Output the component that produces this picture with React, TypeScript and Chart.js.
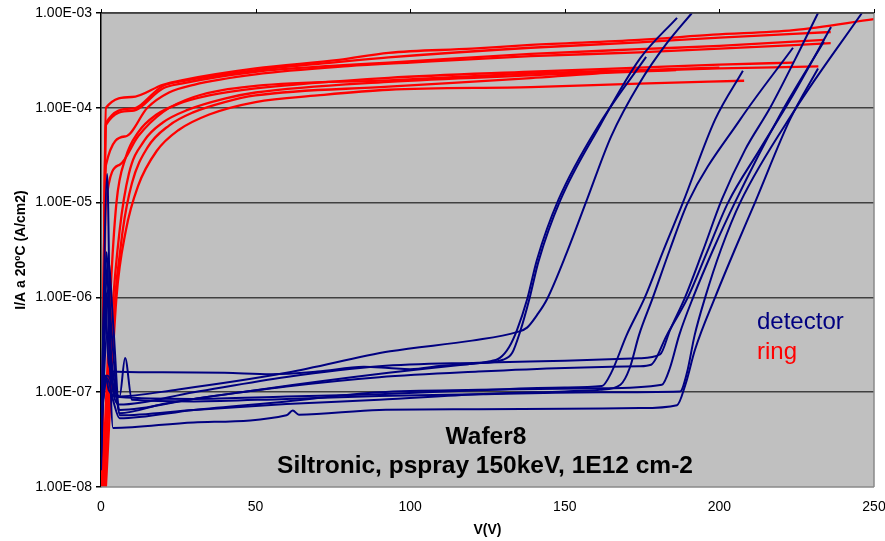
import React, { useEffect, useRef } from "react";
import { Chart, registerables } from "chart.js";

Chart.register(...registerables);

type Pt = [number, number];

// ---------- axes ----------
const xTicks = [0, 50, 100, 150, 200, 250];
const yTicks = [1e-8, 1e-7, 1e-6, 1e-5, 1e-4, 1e-3];
const yTickLabels = ["1.00E-08", "1.00E-07", "1.00E-06", "1.00E-05", "1.00E-04", "1.00E-03"];
const xTitle = "V(V)";
const yTitle = "I/A a 20ºC (A/cm2)";
const titleLines = ["Wafer8", "Siltronic, pspray 150keV, 1E12 cm-2"];
const seriesNames = ["detector", "ring"];

// ---------- ring curves (V, I) ----------
const ring1: Pt[] = [[0.3, 9e-9], [1.6, 1.0e-4], [10, 1.3e-4], [20, 1.75e-4], [26, 1.95e-4], [50, 2.6e-4], [77, 3.2e-4], [93, 3.8e-4], [120, 4.2e-4], [139, 4.6e-4], [174, 5.2e-4], [198, 5.9e-4], [224, 6.6e-4], [250, 8.6e-4]];
const ring2: Pt[] = [[0.3, 9e-9], [1.6, 6.9e-5], [10, 9.8e-5], [20, 1.7e-4], [26, 1.9e-4], [50, 2.5e-4], [77, 3.05e-4], [93, 3.4e-4], [139, 4.3e-4], [174, 4.9e-4], [200, 5.5e-4], [236, 6.3e-4]];
const ring3: Pt[] = [[0.3, 9e-9], [1.6, 6.6e-5], [10, 9.3e-5], [20, 1.6e-4], [26, 1.8e-4], [50, 2.4e-4], [77, 2.8e-4], [93, 3.0e-4], [139, 3.7e-4], [174, 4.15e-4], [200, 4.5e-4], [234, 5.2e-4]];
const ring4: Pt[] = [[0.3, 9e-9], [1.6, 2.5e-5], [8, 5e-5], [15, 1.0e-4], [22, 1.45e-4], [30, 1.75e-4], [50, 2.25e-4], [80, 2.75e-4], [100, 3.0e-4], [139, 3.5e-4], [174, 3.85e-4], [200, 4.2e-4], [236, 4.8e-4]];
const ring5: Pt[] = [[0.5, 9e-9], [3, 1e-6], [5, 1e-5], [8, 3e-5], [12, 5.5e-5], [18, 8.5e-5], [25, 1.1e-4], [35, 1.35e-4], [50, 1.6e-4], [93, 2.07e-4], [139, 2.4e-4], [174, 2.65e-4], [200, 2.85e-4], [224, 3.0e-4]];
const ring6: Pt[] = [[0.6, 9e-9], [3.5, 6e-7], [6, 5e-6], [9, 2e-5], [14, 4.5e-5], [20, 7e-5], [28, 9.5e-5], [40, 1.25e-4], [50, 1.45e-4], [93, 1.88e-4], [139, 2.2e-4], [174, 2.45e-4], [200, 2.6e-4], [232, 2.73e-4]];
const ring7: Pt[] = [[1, 9e-9], [4, 6e-7], [7, 5e-6], [10, 1.6e-5], [15, 3.8e-5], [22, 6.5e-5], [30, 9e-5], [40, 1.15e-4], [50, 1.35e-4], [93, 1.67e-4], [139, 2.06e-4], [160, 2.3e-4], [186, 2.5e-4]];
const ring8: Pt[] = [[1.5, 9e-9], [5, 1e-6], [8, 5e-6], [12, 1.5e-5], [18, 3.5e-5], [25, 5.8e-5], [35, 8.5e-5], [50, 1.15e-4], [70, 1.35e-4], [93, 1.55e-4], [139, 1.65e-4], [174, 1.8e-4], [208, 1.93e-4]];
const ring9: Pt[] = [[0.3, 9e-9], [1.6, 1e-5], [6, 2.5e-5], [12, 5e-5], [20, 9e-5], [30, 1.3e-4], [50, 1.7e-4], [93, 1.95e-4], [139, 2.3e-4], [174, 2.5e-4], [200, 2.65e-4]];

// ---------- detector curves (V, I) ----------
const det1: Pt[] = [[0, 2e-8], [2, 2e-5], [3, 4e-7], [5, 9e-8], [25, 1.07e-7], [60, 1.6e-7], [93.5, 2.7e-7], [120, 3.5e-7], [134.5, 4.3e-7], [137.8, 4.8e-7], [141, 6.5e-7], [144.2, 9.5e-7], [150.7, 3e-6], [157.2, 1.08e-5], [165, 5e-5], [174.3, 1.85e-4], [183, 4.8e-4], [191.1, 1e-3]];
const det2: Pt[] = [[0, 3e-8], [1.2, 1.1e-6], [2.5, 2e-7], [4, 1.65e-7], [20, 1.62e-7], [40, 1.6e-7], [55, 1.55e-7], [70, 1.65e-7], [85, 1.85e-7], [93, 1.8e-7], [100, 1.75e-7], [110, 1.9e-7], [125, 2.1e-7], [129, 2.3e-7], [132, 3e-7], [134.5, 4.5e-7], [137.8, 9.5e-7], [141, 2.5e-6], [148, 1.08e-5], [161, 6.6e-5], [176.3, 3.45e-4]];
const det3: Pt[] = [[0, 4e-8], [2.2, 1.2e-6], [3.5, 4e-7], [6, 6e-8], [20, 7.5e-8], [50, 1.05e-7], [93, 1.6e-7], [120, 2.0e-7], [130, 2.2e-7], [133, 2.6e-7], [135.5, 4.3e-7], [138.5, 9.5e-7], [141.5, 2.4e-6], [148.5, 1.05e-5], [161.5, 6.6e-5], [174.3, 3.3e-4], [186.3, 8.9e-4]];
const det4: Pt[] = [[0, 2e-8], [1.8, 3e-6], [3, 2e-7], [6, 7.4e-8], [30, 1.0e-7], [60, 1.45e-7], [90, 1.88e-7], [122, 2.05e-7], [150, 2.15e-7], [174, 2.28e-7], [180.8, 2.5e-7], [184, 4.5e-7], [188.9, 1e-6], [194.5, 3e-6], [200.8, 1.08e-5], [208.3, 3.6e-5], [216.4, 1e-4], [224.4, 3.2e-4], [231.9, 1e-3]];
const det5: Pt[] = [[0, 3e-8], [2, 4e-7], [4, 1.5e-7], [6.1, 6.5e-8], [30, 8.5e-8], [60, 1.15e-7], [90, 1.44e-7], [122, 1.65e-7], [150, 1.8e-7], [174, 1.88e-7], [177.9, 1.95e-7], [183, 4e-7], [189.8, 1e-6], [196, 3e-6], [202.8, 1e-5], [213, 3.6e-5], [222.8, 1.2e-4], [236.1, 7.1e-4]];
const det6: Pt[] = [[0, 4e-8], [1.5, 1.5e-7], [2.5, 1.05e-7], [6, 8.9e-8], [30, 8.5e-8], [60, 9.0e-8], [90, 9.5e-8], [122, 1.05e-7], [150, 1.12e-7], [162, 1.16e-7], [165, 1.6e-7], [170, 4e-7], [175.9, 1e-6], [182, 3.2e-6], [188.2, 1e-5], [198.6, 7.5e-5], [207.6, 2.46e-4]];
const det7: Pt[] = [[0, 3e-8], [2.3, 2.5e-6], [4, 4.9e-7], [6.1, 5.7e-8], [30, 6.5e-8], [60, 7.5e-8], [90, 8.3e-8], [122, 9.5e-8], [150, 1.02e-7], [161.4, 1.06e-7], [168, 1.2e-7], [171, 1.8e-7], [174, 4e-7], [178.5, 1e-6], [184, 3.2e-6], [189.8, 1e-5], [206.7, 7.5e-5], [223.8, 4.3e-4]];
const det8: Pt[] = [[0, 6e-8], [2, 1.4e-7], [4, 8e-8], [6, 5.3e-8], [30, 6.5e-8], [60, 8e-8], [90, 1.0e-7], [122, 1.06e-7], [161.4, 1.1e-7], [181.4, 1.2e-7], [184, 1.8e-7], [187, 4e-7], [191.5, 1e-6], [198, 3.2e-6], [205, 1e-5], [219.6, 8.4e-5], [233.8, 5e-4]];
const det9: Pt[] = [[0, 5e-8], [2, 1.5e-7], [6, 9e-8], [7.8, 2.3e-7], [10, 8.3e-8], [30, 8e-8], [60, 8.5e-8], [90, 9.1e-8], [122, 9.5e-8], [161.4, 1e-7], [187.3, 1.02e-7], [189.5, 1.6e-7], [192, 4e-7], [195.4, 1e-6], [200.5, 3.2e-6], [206.7, 1e-5], [224.4, 9.5e-5], [246.1, 1e-3]];
const det10: Pt[] = [[0, 1.5e-8], [1.8, 1.1e-6], [3.9, 4.2e-8], [30, 4.8e-8], [60, 5.7e-8], [62, 6.4e-8], [64, 5.8e-8], [90, 6.5e-8], [122, 6.6e-8], [150, 6.7e-8], [174.3, 6.8e-8], [186.3, 7.3e-8], [189, 1.2e-7], [192.1, 2.8e-7], [198.6, 1e-6], [205, 3.2e-6], [211.5, 1e-5], [222.8, 7.5e-5], [231.9, 2.6e-4]];

const detectorCurves = [det1, det2, det3, det4, det5, det6, det7, det8, det9, det10];
const ringCurves = [ring1, ring2, ring3, ring4, ring5, ring6, ring7, ring8, ring9];

const DET_COLOR = "#000080";
const RING_COLOR = "#FF0000";
const FONT = "'Liberation Sans', Arial, Helvetica, sans-serif";

const framePlugin = {
  id: "frame",
  beforeDraw(chart: any) {
    const { ctx, chartArea: a } = chart;
    ctx.save();
    ctx.fillStyle = "#C0C0C0";
    ctx.fillRect(a.left, a.top, a.right - a.left, a.bottom - a.top);
    ctx.restore();
  },
  afterDatasetsDraw(chart: any) {
    const { ctx, chartArea: a } = chart;
    const xs = chart.scales.x;
    ctx.save();
    ctx.strokeStyle = "#8a8a8a";
    ctx.lineWidth = 1.5;
    ctx.beginPath();
    ctx.moveTo(a.right, a.top);
    ctx.lineTo(a.right, a.bottom);
    ctx.stroke();
    ctx.beginPath();
    ctx.moveTo(a.left, a.bottom);
    ctx.lineTo(a.right, a.bottom);
    ctx.stroke();
    ctx.strokeStyle = "#404040";
    ctx.lineWidth = 1.5;
    ctx.beginPath();
    ctx.moveTo(a.left, a.top);
    ctx.lineTo(a.right, a.top);
    ctx.stroke();
    ctx.strokeStyle = "#000";
    ctx.lineWidth = 1;
    for (const v of xTicks) {
      const px = Math.round(xs.getPixelForValue(v)) + 0.5;
      ctx.beginPath();
      ctx.moveTo(px, a.top - 4);
      ctx.lineTo(px, a.top);
      ctx.stroke();
    }
    ctx.fillStyle = "#000";
    ctx.font = `bold 24.5px ${FONT}`;
    ctx.textAlign = "center";
    ctx.textBaseline = "alphabetic";
    ctx.fillText(titleLines[0], 486, 444);
    ctx.fillText(titleLines[1], 485, 473);
    ctx.font = `24px ${FONT}`;
    ctx.textAlign = "left";
    ctx.fillStyle = DET_COLOR;
    ctx.fillText(seriesNames[0], 757, 329);
    ctx.fillStyle = RING_COLOR;
    ctx.fillText(seriesNames[1], 757, 359);
    ctx.restore();
  },
};

export default function App() {
  const ref = useRef<HTMLCanvasElement | null>(null);

  useEffect(() => {
    document.body.style.margin = "0";
    const canvas = ref.current;
    if (!canvas) return;

    const toXY = (c: Pt[]) => c.map(([x, y]) => ({ x, y }));
    const datasets: any[] = [
      ...ringCurves.map((c, i) => ({
        label: i === 0 ? seriesNames[1] : seriesNames[1] + " " + (i + 1),
        data: toXY(c),
        borderColor: RING_COLOR,
        backgroundColor: RING_COLOR,
        borderWidth: 2.3,
        showLine: true,
        pointRadius: 0,
        order: 2,
        cubicInterpolationMode: "monotone",
      })),
      ...detectorCurves.map((c, i) => ({
        label: i === 0 ? seriesNames[0] : seriesNames[0] + " " + (i + 1),
        data: toXY(c),
        borderColor: DET_COLOR,
        backgroundColor: DET_COLOR,
        borderWidth: 2,
        showLine: true,
        pointRadius: 0,
        order: 1,
        cubicInterpolationMode: "monotone",
      })),
    ];

    const chart = new Chart(canvas, {
      type: "scatter",
      data: { datasets },
      plugins: [framePlugin],
      options: {
        animation: false,
        responsive: false,
        events: [],
        layout: { padding: { left: 9, top: 13, right: 11, bottom: 0 } },
        plugins: {
          legend: { display: false },
          tooltip: { enabled: false },
        },
        scales: {
          x: {
            type: "linear",
            min: 0,
            max: 250,
            afterBuildTicks: (axis: any) => {
              axis.ticks = xTicks.map((v) => ({ value: v }));
            },
            afterFit: (axis: any) => {
              axis.height = 54;
              axis.paddingLeft = 0;
              axis.paddingRight = 0;
            },
            ticks: {
              padding: 12,
              color: "#000",
              font: { family: FONT, size: 14 },
              maxRotation: 0,
              callback: (v: any) => String(v),
            },
            grid: { display: false, drawTicks: false },
            border: { display: false },
            title: {
              display: true,
              text: xTitle,
              color: "#000",
              font: { family: FONT, size: 14, weight: "bold" },
              padding: { top: 6, bottom: 2.5 },
            },
          },
          y: {
            type: "logarithmic",
            min: 1e-8,
            max: 1e-3,
            afterBuildTicks: (axis: any) => {
              axis.ticks = yTicks.map((v) => ({ value: v, major: true }));
            },
            afterFit: (axis: any) => {
              axis.width = 92;
              axis.paddingTop = 0;
              axis.paddingBottom = 0;
            },
            ticks: {
              padding: 4,
              color: "#000",
              font: { family: FONT, size: 14 },
              autoSkip: false,
              callback: (v: any) => {
                const i = yTicks.indexOf(Number(v));
                return i >= 0 ? yTickLabels[i] : "";
              },
            },
            grid: {
              color: (c: any) => (c.tick && c.tick.value === 1e-8 ? "rgba(0,0,0,0)" : "#404040"),
              lineWidth: 1.5,
              tickLength: 5,
              tickColor: "#000",
              drawTicks: true,
            },
            border: { display: true, color: "#000", width: 1.5 },
            title: {
              display: true,
              text: yTitle,
              color: "#000",
              font: { family: FONT, size: 14, weight: "bold" },
            },
          },
        },
      } as any,
    });

    return () => chart.destroy();
  }, []);

  return (
    <div style={{ position: "absolute", left: 0, top: 0, width: 885, height: 541, background: "#fff" }}>
      <canvas ref={ref} width={885} height={541} />
    </div>
  );
}
